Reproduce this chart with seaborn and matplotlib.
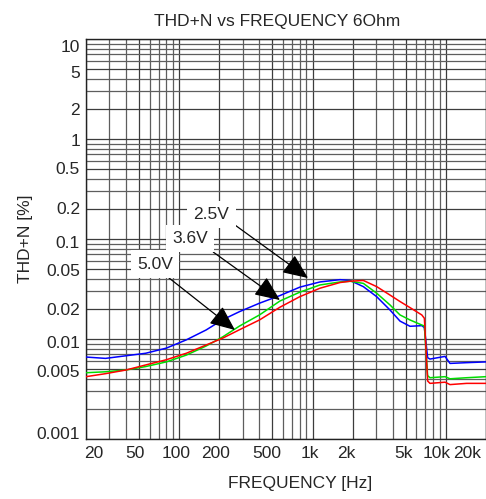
import numpy as np
import pandas as pd
import seaborn as sns
import matplotlib
matplotlib.use("Agg")
import matplotlib.pyplot as plt
import matplotlib.transforms as mtrans
from matplotlib.ticker import LogLocator, NullFormatter

# THD+N [%] at these frequencies [Hz]
freq_hz = [20, 28, 40, 56, 80, 113, 159, 212, 284, 400, 570, 803, 1137, 1607, 1910,
           2405, 3028, 3811, 4530, 5384, 6600, 6900, 7300, 7600, 9860, 10740, 14320, 20000]
thdn_2v5 = [0.0066, 0.0064, 0.0068, 0.0072, 0.0081, 0.0098, 0.0123, 0.0156, 0.0188, 0.0228,
            0.0272, 0.0330, 0.0372, 0.0392, 0.0385, 0.0334, 0.0265, 0.0195, 0.0151, 0.0134,
            0.0136, 0.0130, 0.0065, 0.0063, 0.0067, 0.0057, 0.0058, 0.0059]
thdn_3v6 = [0.0046, 0.0047, 0.0049, 0.0053, 0.0059, 0.0069, 0.0085, 0.0105, 0.0135, 0.0174,
            0.0240, 0.0294, 0.0347, 0.0372, 0.0378, 0.0360, 0.0287, 0.0219, 0.0174, 0.0155,
            0.0138, 0.0135, 0.0043, 0.0041, 0.0042, 0.0040, 0.0041, 0.0042]
thdn_5v0 = [0.0042, 0.0045, 0.0049, 0.0055, 0.0062, 0.0072, 0.0087, 0.0102, 0.0124, 0.0155,
            0.0208, 0.0265, 0.0322, 0.0367, 0.0378, 0.0385, 0.0334, 0.0275, 0.0237, 0.0206,
            0.0174, 0.0161, 0.0038, 0.0036, 0.0037, 0.0035, 0.0036, 0.0036]
supply_labels = ["2.5V", "3.6V", "5.0V"]
line_colors = ["#0000ff", "#00dd00", "#ff0000"]

x_ticks = [20, 50, 100, 200, 500, 1000, 2000, 5000, 10000, 20000]
x_tick_labels = ["20", "50", "100", "200", "500", "1k", "2k", "5k", "10k", "20k"]
y_ticks = [0.001, 0.005, 0.01, 0.02, 0.05, 0.1, 0.2, 0.5, 1, 2, 5, 10]
y_tick_labels = ["0.001", "0.005", "0.01", "0.02", "0.05", "0.1", "0.2", "0.5", "1", "2", "5", "10"]

# callout text centres and arrow tips, data coords
label_xy = [(174.7, 0.176), (120.5, 0.101), (66.4, 0.0562)]
arrow_tip = [(925, 0.0407), (570, 0.0245), (262, 0.0123)]

df = pd.DataFrame({
    "freq": freq_hz * 3,
    "thdn": thdn_2v5 + thdn_3v6 + thdn_5v0,
    "supply": [s for s in supply_labels for _ in freq_hz],
})

sns.set_style("white")
plt.rcParams["font.family"] = ["Liberation Sans", "DejaVu Sans"]
fs = 12.5

fig = plt.figure(figsize=(4.86, 4.99), dpi=100)
ax = fig.add_axes([86 / 486, 60 / 499, 400 / 486, 400 / 499])

sns.lineplot(data=df, x="freq", y="thdn", hue="supply", hue_order=supply_labels,
             palette=dict(zip(supply_labels, line_colors)), estimator=None, sort=False,
             linewidth=1.1, legend=False, ax=ax, zorder=3)

ax.set_xscale("log")
ax.set_yscale("log")
ax.set_xlim(20, 20000)
ax.set_ylim(0.001, 10)

ax.xaxis.set_minor_locator(LogLocator(base=10, subs=np.arange(2, 10)))
ax.yaxis.set_minor_locator(LogLocator(base=10, subs=np.arange(2, 10)))
ax.xaxis.set_minor_formatter(NullFormatter())
ax.yaxis.set_minor_formatter(NullFormatter())
ax.set_xticks(x_ticks)
ax.set_xticklabels(x_tick_labels)
ax.set_yticks(y_ticks)
ax.set_yticklabels(y_tick_labels)
ax.tick_params(which="both", length=0)
ax.tick_params(axis="x", pad=5, labelsize=fs)
ax.tick_params(axis="y", pad=4.3, labelsize=fs)

ax.set_axisbelow(True)
ax.grid(which="major", color="#3c3c3c", linewidth=0.9)
ax.grid(which="minor", color="#5e5e5e", linewidth=0.9)
for sp in ax.spines.values():
    sp.set_color("#222222")
    sp.set_linewidth(1.0)

# nudge tick labels the way the original plot placed them (pixels)
x_shift_px = [8, -4, -3, -4, -6, -3, -6, -2, -9, -19]
for lab, dx in zip(ax.get_xticklabels(), x_shift_px):
    lab.set_transform(lab.get_transform() + mtrans.ScaledTranslation(dx / 100, 0, fig.dpi_scale_trans))
y_shift_px = [-6, 1.5, 2.5, 0, 1, 2.5, -0.5, -1, 1, 0, 2.5, 6.5]
for lab, dy in zip(ax.get_yticklabels(), y_shift_px):
    lab.set_transform(lab.get_transform() + mtrans.ScaledTranslation(0, -dy / 100, fig.dpi_scale_trans))

ax.set_title("THD+N vs FREQUENCY 6Ohm", x=(276.7 - 86) / 400, pad=9.4, fontsize=fs)
ax.set_xlabel("FREQUENCY [Hz]", fontsize=fs)
ax.set_ylabel("THD+N [%]", fontsize=fs)
ax.xaxis.set_label_coords(0.535, -0.093)
ax.yaxis.set_label_coords(-0.133, 0.5)

rel_pos = [(0.95, 0.15), (0.8, 0.2), (0.65, 0.0)]
for txt, xy_txt, tip, rp in zip(supply_labels, label_xy, arrow_tip, rel_pos):
    ax.annotate(txt, xy=tip, xytext=xy_txt, textcoords="data", fontsize=fs,
                ha="center", va="center", zorder=5,
                bbox=dict(boxstyle="square,pad=0.35", fc="white", ec="none"),
                arrowprops=dict(arrowstyle="-|>,head_length=0.65,head_width=0.28",
                                mutation_scale=24, color="black", lw=0.9,
                                relpos=rp, shrinkA=0, shrinkB=0))

fig.savefig("out.png", dpi=100)
